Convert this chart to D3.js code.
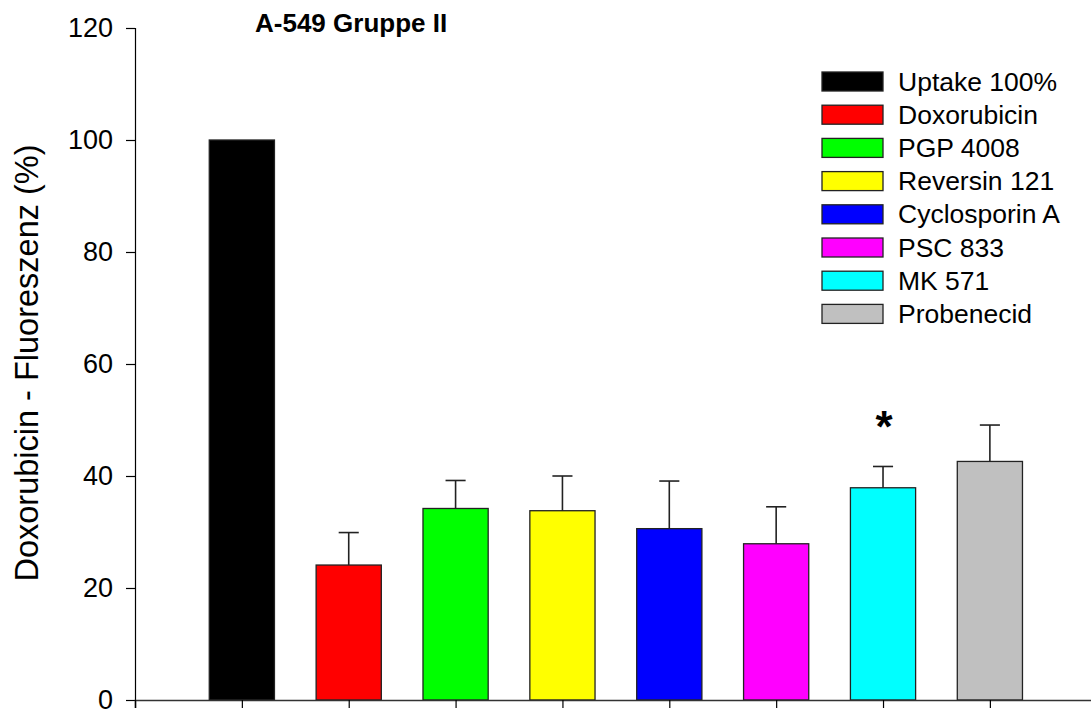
<!DOCTYPE html>
<html><head><meta charset="utf-8">
<script src="https://cdn.jsdelivr.net/npm/d3@7"></script>
<style>body{margin:0;background:#fff}svg{display:block;font-family:Arial,"Liberation Sans",sans-serif}</style>
</head><body>
<svg id="c" width="1091" height="711"></svg>
<script>
const categories = ["Uptake 100%","Doxorubicin","PGP 4008","Reversin 121","Cyclosporin A","PSC 833","MK 571","Probenecid"];
const values = [100, 24.1, 34.2, 33.8, 30.6, 27.9, 37.9, 42.6];
const errors = [0, 5.8, 5.0, 6.2, 8.5, 6.6, 3.8, 6.5];
const colors = ["#000000","#ff0000","#00ff00","#ffff00","#0000ff","#ff00ff","#00ffff","#c0c0c0"];
const yTicks = [0,20,40,60,80,100,120];
const significant = [false,false,false,false,false,false,true,false];
const title = "A-549 Gruppe II";
const yLabel = "Doxorubicin - Fluoreszenz (%)";

const svg = d3.select("#c");
const y = d3.scaleLinear().domain([0,120]).range([700,28]);
const x = d3.scaleLinear().domain([0,9]).range([135,135+9*106.86]);
const halfW = 0.305, capW = 0.094;

// y axis
const yAxis = d3.axisLeft(y).tickValues(yTicks).tickSize(9).tickPadding(13);
const gy = svg.append("g").attr("transform","translate(135,0)").call(yAxis);
gy.select(".domain").attr("stroke","#000").attr("stroke-width",1.2);
gy.selectAll(".tick line").attr("stroke","#000").attr("stroke-width",1.2);
gy.selectAll("text").attr("font-size",27).attr("font-family","Arial, 'Liberation Sans', sans-serif").attr("fill","#000").attr("dy","0.33em");

// bars
const idx = d3.range(categories.length);
svg.append("g").selectAll("rect").data(idx).join("rect")
  .attr("x", i => x(i+1-halfW))
  .attr("width", i => x(i+1+halfW)-x(i+1-halfW))
  .attr("y", i => y(values[i]))
  .attr("height", i => y(0)-y(values[i]))
  .attr("fill", i => colors[i])
  .attr("stroke", "#222").attr("stroke-width", 1.3);

// error bars (upper only)
const eb = svg.append("g").attr("stroke","#222").attr("stroke-width",1.6);
idx.filter(i => errors[i] > 0).forEach(i => {
  eb.append("line").attr("x1",x(i+1)).attr("x2",x(i+1)).attr("y1",y(values[i])).attr("y2",y(values[i]+errors[i]));
  eb.append("line").attr("x1",x(i+1-capW)).attr("x2",x(i+1+capW)).attr("y1",y(values[i]+errors[i])).attr("y2",y(values[i]+errors[i]));
});

// significance star
idx.filter(i => significant[i]).forEach(i => {
  svg.append("text").attr("x",x(i+1)+1).attr("y",y(values[i]+errors[i])-24)
    .attr("text-anchor","middle").attr("font-size",44).attr("font-weight","bold").text("*");
});

// x axis
const xAxis = d3.axisBottom(x).tickValues(d3.range(0,9)).tickSize(8).tickFormat("");
const gx = svg.append("g").attr("transform","translate(0,700)").call(xAxis);
gx.select(".domain").attr("stroke","#333").attr("stroke-width",1.6);
gx.selectAll(".tick line").attr("stroke","#000").attr("stroke-width",1.2);

// title
svg.append("text").attr("x",255).attr("y",32).attr("font-size",26).attr("font-weight","bold").text(title);

// y label
svg.append("text").attr("transform","translate(38,363) rotate(-90)").attr("text-anchor","middle")
  .attr("font-size",32.5).text(yLabel);

// legend
const lg = svg.append("g");
idx.forEach(i => {
  const top = 72 + i*33.2;
  lg.append("rect").attr("x",822).attr("y",top).attr("width",61).attr("height",19)
    .attr("fill",colors[i]).attr("stroke","#222").attr("stroke-width",1.3);
  lg.append("text").attr("x",898).attr("y",top+18.5).attr("font-size",26.5).text(categories[i]);
});
</script>
</body></html>
